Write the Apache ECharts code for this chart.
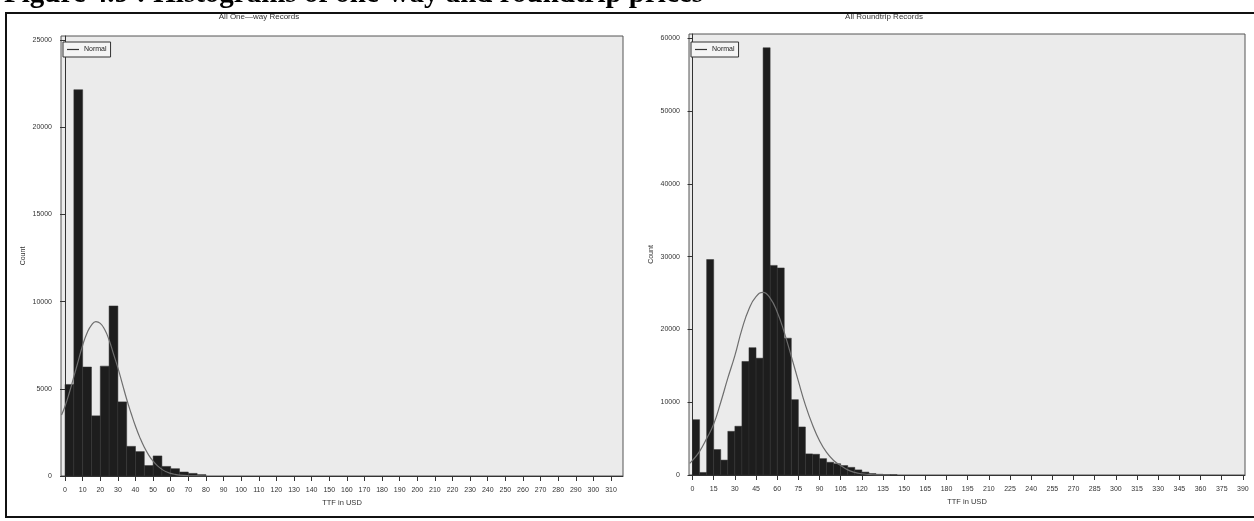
<!DOCTYPE html>
<html>
<head>
<meta charset="utf-8">
<script src="https://cdn.jsdelivr.net/npm/echarts@6/dist/echarts.min.js"></script>
<style>
html,body{margin:0;padding:0;background:#fff;}
#chart{width:1254px;height:521px;}
</style>
</head>
<body>
<div id="chart"></div>
<script>
// ---------- data ----------
const binWidth = 5;
const leftBinStarts = [0,5,10,15,20,25,30,35,40,45,50,55,60,65,70,75];
const leftCounts = [5250,22150,6250,3450,6300,9750,4250,1700,1400,600,1150,550,420,230,150,80];
const rightBinStarts = [0,5,10,15,20,25,30,35,40,45,50,55,60,65,70,75,80,85,90,95,100,105,110,115,120,125,130,135,140];
const rightCounts = [7600,350,29600,3500,2050,6000,6700,15600,17500,16050,58700,28800,28450,18800,10350,6600,2900,2850,2250,1750,1550,1300,1050,700,400,200,100,50,30];

const leftCurveX = [-2,0,2.5,5,7.5,10,12.5,15,17.5,20,22.5,25,27.5,30,32.5,35,37.5,40,42.5,45,47.5,50,52.5,55,57.5,60,62.5,65,70,75,80];
const leftCurveY = [3500,4000,4800,5700,6600,7500,8200,8650,8850,8750,8400,7800,7000,6200,5300,4400,3600,2850,2200,1650,1200,850,580,380,240,150,90,50,15,4,0];
const rightCurveX = [-2,0,5,10,15,20,25,30,35,40,45,50,55,60,65,70,75,80,85,90,95,100,105,110,115,120,125,130,140];
const rightCurveY = [1600,2000,3250,5000,7000,10000,13300,16400,20000,22800,24500,25100,24300,22400,19600,16300,12900,9600,6900,4700,3100,2000,1300,700,350,170,80,30,5];

const leftXTicks = [0,10,20,30,40,50,60,70,80,90,100,110,120,130,140,150,160,170,180,190,200,210,220,230,240,250,260,270,280,290,300,310];
const leftYTicks = [0,5000,10000,15000,20000,25000];
const rightXTicks = [0,15,30,45,60,75,90,105,120,135,150,165,180,195,210,225,240,255,270,285,300,315,330,345,360,375,390];
const rightYTicks = [0,10000,20000,30000,40000,50000,60000];

const figureTitle = 'Figure 4.9 : Histograms of one-way and roundtrip prices';
const leftTitle = 'All One\u2014way Records';
const rightTitle = 'All Roundtrip Records';
const xName = 'TTF in USD';
const yName = 'Count';

// ---------- build ----------
const hist = (starts, counts) => starts.map((s, i) => [s, s + binWidth, counts[i]]);
const curve = (xs, ys) => xs.map((x, i) => [x, ys[i]]);

const FONT = 'Liberation Sans';
const labelStyle = {fontFamily: FONT, fontSize: 7, color: '#333', formatter: v => String(v)};

function renderBar(params, api) {
  const x0 = api.value(0), x1 = api.value(1), y = api.value(2);
  const p0 = api.coord([x0, y]);
  const p1 = api.coord([x1, 0]);
  return {
    type: 'rect',
    shape: {x: p0[0], y: p0[1], width: p1[0] - p0[0], height: p1[1] - p0[1]},
    style: {fill: '#1d1d1d', stroke: '#333', lineWidth: 0.5}
  };
}

function xAxis(gridIndex, min, max, ticks) {
  return {
    type: 'value', gridIndex, min, max,
    name: xName, nameLocation: 'middle', nameGap: 22,
    nameTextStyle: {fontFamily: FONT, fontSize: 7.5, color: '#333'},
    axisLine: {show: true, lineStyle: {color: '#333', width: 1}},
    axisTick: {show: true, length: 5, lineStyle: {color: '#333'}, customValues: ticks},
    axisLabel: Object.assign({margin: 11, customValues: ticks}, labelStyle),
    splitLine: {show: false}
  };
}
function yAxis(gridIndex, min, max, ticks) {
  return {
    type: 'value', gridIndex, min, max,
    name: yName, nameLocation: 'middle', nameGap: 34,
    nameTextStyle: {fontFamily: FONT, fontSize: 7, color: '#333'},
    axisLine: {show: true, lineStyle: {color: '#333', width: 1}},
    axisTick: {show: true, length: 5, lineStyle: {color: '#333'}, customValues: ticks},
    axisLabel: Object.assign({margin: 9, customValues: ticks}, labelStyle),
    splitLine: {show: false}
  };
}

const legendBase = {
  data: ['Normal'], top: 42, orient: 'vertical', padding: [4, 4], itemGap: 0,
  icon: 'rect', itemWidth: 12, itemHeight: 1.2,
  borderColor: '#333', borderWidth: 1, backgroundColor: '#f4f4f4',
  textStyle: {fontFamily: FONT, fontSize: 7, color: '#222'}, selectedMode: false
};

const chart = echarts.init(document.getElementById('chart'));
chart.setOption({
  animation: false,
  backgroundColor: '#fff',
  grid: [
    {left: 61, right: 631, top: 36, bottom: 45, show: true, backgroundColor: '#ebebeb', borderColor: '#555', borderWidth: 1},
    {left: 689, right: 9, top: 34, bottom: 46, show: true, backgroundColor: '#ebebeb', borderColor: '#555', borderWidth: 1}
  ],
  xAxis: [xAxis(0, -2.3, 316.8, leftXTicks), xAxis(1, -2.5, 391.5, rightXTicks)],
  yAxis: [yAxis(0, 0, 25230, leftYTicks), yAxis(1, 0, 60590, rightYTicks)],
  legend: [
    Object.assign({left: 63}, legendBase),
    Object.assign({left: 691}, legendBase)
  ],
  series: [
    {type: 'custom', xAxisIndex: 0, yAxisIndex: 0, renderItem: renderBar, encode: {x: [0, 1], y: 2},
     data: hist(leftBinStarts, leftCounts), z: 2},
    {type: 'custom', xAxisIndex: 1, yAxisIndex: 1, renderItem: renderBar, encode: {x: [0, 1], y: 2},
     data: hist(rightBinStarts, rightCounts), z: 2},
    {name: 'Normal', type: 'line', xAxisIndex: 0, yAxisIndex: 0, smooth: true, symbol: 'none',
     lineStyle: {color: '#6e6e6e', width: 1.2}, itemStyle: {color: '#333'},
     data: curve(leftCurveX, leftCurveY), z: 3},
    {name: 'Normal', type: 'line', xAxisIndex: 1, yAxisIndex: 1, smooth: true, symbol: 'none',
     lineStyle: {color: '#6e6e6e', width: 1.2}, itemStyle: {color: '#333'},
     data: curve(rightCurveX, rightCurveY), z: 3}
  ],
  graphic: [
    {type: 'text', x: 4, y: 9, style: {text: figureTitle, font: 'bold 29px "Liberation Serif"', fill: '#000', verticalAlign: 'bottom'}},
    {type: 'rect', shape: {x: 6, y: 13, width: 1260, height: 504}, style: {fill: 'none', stroke: '#111', lineWidth: 2}},
    {type: 'text', x: 259, y: 17, style: {text: leftTitle, font: '8px "Liberation Sans"', fill: '#333', align: 'center', verticalAlign: 'middle'}},
    {type: 'text', x: 884, y: 17, style: {text: rightTitle, font: '8px "Liberation Sans"', fill: '#333', align: 'center', verticalAlign: 'middle'}}
  ]
});
</script>
</body>
</html>
